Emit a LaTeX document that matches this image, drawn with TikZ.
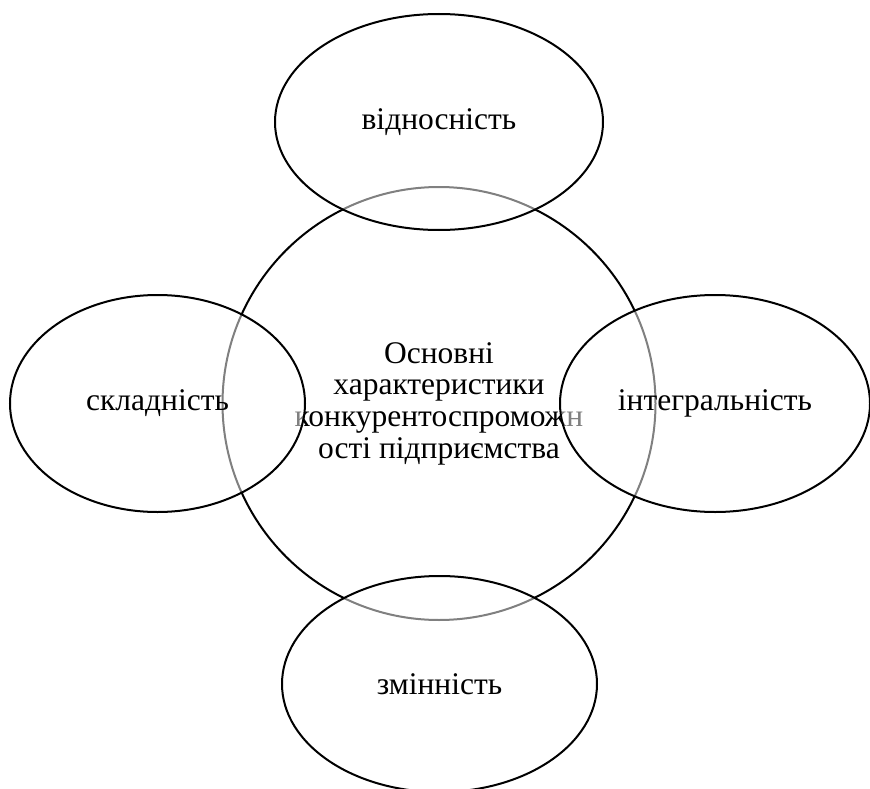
\documentclass[tikz,border=0pt]{standalone}
\usepackage{fontspec}
\setmainfont{Liberation Serif}
\usetikzlibrary{shapes.geometric}

\tikzset{
  bigcircle/.style={draw, circle, line width=2pt, inner sep=0pt, minimum size=433pt, align=center},
  trait/.style={draw, ellipse, line width=2pt, inner sep=0pt, fill=white, fill opacity=0.5, text opacity=1}
}

\begin{document}
\begin{tikzpicture}[x=1pt,y=1pt,yscale=-1,xscale=1]
\fontsize{31.5}{31.7}\selectfont
\useasboundingbox (0,0) rectangle (870,789);

%Shape: Circle
\node [bigcircle] (main) at (439,403.5) {Основні\\характеристики\\конкурентоспроможн\\ості підприємства};

%Shape: Ellipse
\node [trait, minimum width=328pt, minimum height=216pt] (rel) at (439,122) {відносність};
%Shape: Ellipse
\node [trait, minimum width=295pt, minimum height=217pt] (compl) at (157.5,403.5) {складність};
%Shape: Ellipse
\node [trait, minimum width=310pt, minimum height=217pt] (integ) at (715,403.5) {інтегральність};
%Shape: Ellipse
\node [trait, minimum width=315pt, minimum height=216pt] (var) at (439.5,684) {змінність};

\end{tikzpicture}
\end{document}
